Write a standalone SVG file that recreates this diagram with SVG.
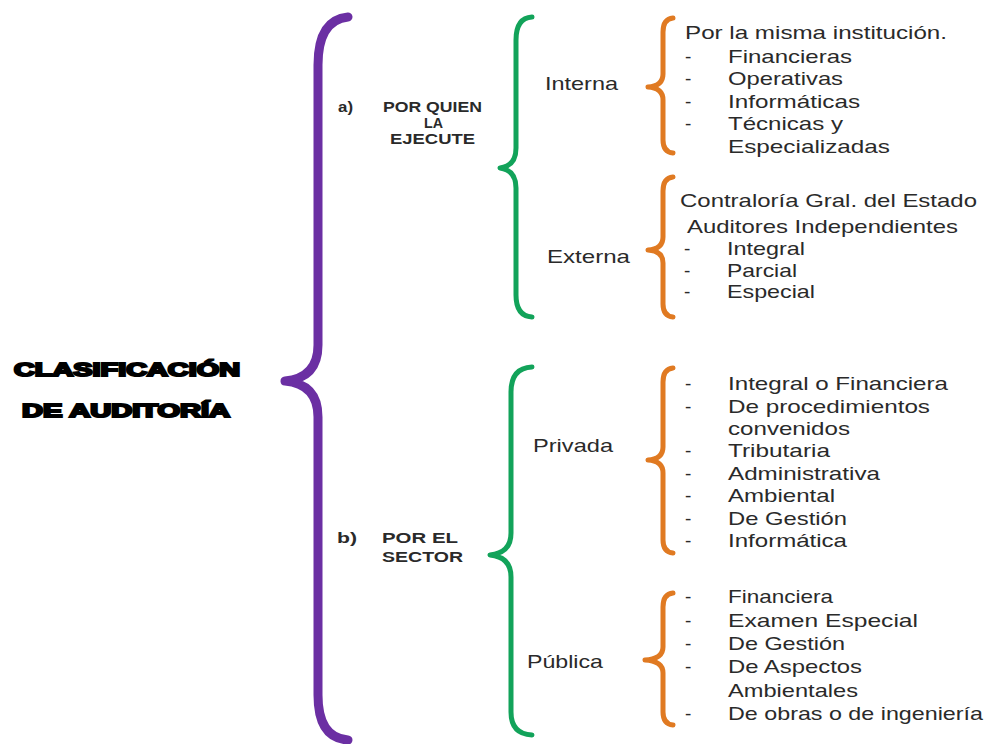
<svg xmlns="http://www.w3.org/2000/svg" width="999" height="744" viewBox="0 0 999 744">
<style>
.br{fill:none;stroke-linecap:round;stroke-linejoin:round}
.pu{stroke:#6b2fa3;stroke-width:9}
.gr{stroke:#12a35a;stroke-width:5}
.or{stroke:#e07a22;stroke-width:5}
.t{font-family:"Liberation Sans",Arial,sans-serif;font-size:19px;fill:#2a2a2a}
.b{font-family:"Liberation Sans",Arial,sans-serif;font-size:14px;font-weight:bold;fill:#2a2a2a}
.h{font-family:"Liberation Sans",Arial,sans-serif;font-size:18px;font-weight:bold;fill:#000;stroke:#000;stroke-width:2}
</style>
<rect width="999" height="744" fill="#fff"/>
<g id="connectors">
<path class="br pu" d="M348,17 Q318,20 318,65 L318,345 Q318,378 285,381 Q318,384 318,417 L318,695 Q318,738 348,740"/>
<path class="br gr" d="M532,17 Q516,18 516,40 L516,148 Q516,166 500,168 Q516,170 516,188 L516,295 Q516,316 532,317"/>
<path class="br gr" d="M532,367 Q511,368 511,392 L511,533 Q511,553 490,555 Q511,557 511,577 L511,712 Q511,734 532,735"/>
<path class="br or" d="M673,18 Q663,19 663,32 L663,74 Q663,86 648,87 Q663,88 663,100 L663,140 Q663,152 673,153"/>
<path class="br or" d="M673,177 Q663,178 663,191 L663,237 Q663,249 648,250 Q663,251 663,263 L663,304 Q663,316 673,317"/>
<path class="br or" d="M673,368 Q663,369 663,382 L663,447 Q663,459 648,460 Q663,461 663,473 L663,540 Q663,552 673,553"/>
<path class="br or" d="M673,593 Q663,594 663,607 L663,647 Q663,659 645,660 Q663,661 663,673 L663,712 Q663,724 673,725"/>
</g>
<g id="root">
<text class="h" x="14" y="376" textLength="226" lengthAdjust="spacingAndGlyphs">CLASIFICACIÓN</text>
<text class="h" x="22" y="417" textLength="208" lengthAdjust="spacingAndGlyphs">DE AUDITORÍA</text>
</g>
<g id="a-ejecute">
<text class="b" x="338" y="112" textLength="15" lengthAdjust="spacingAndGlyphs">a)</text>
<text class="b" x="383" y="112" textLength="99" lengthAdjust="spacingAndGlyphs">POR QUIEN</text>
<text class="b" x="424" y="128" textLength="19" lengthAdjust="spacingAndGlyphs">LA</text>
<text class="b" x="390" y="144" textLength="85" lengthAdjust="spacingAndGlyphs">EJECUTE</text>
</g>
<g id="b-sector">
<text class="b" x="337" y="543" textLength="20" lengthAdjust="spacingAndGlyphs">b)</text>
<text class="b" x="382" y="543" textLength="76" lengthAdjust="spacingAndGlyphs">POR  EL</text>
<text class="b" x="382" y="562" textLength="81" lengthAdjust="spacingAndGlyphs">SECTOR</text>
</g>
<g id="interna">
<text class="t" x="545" y="90" textLength="73" lengthAdjust="spacingAndGlyphs">Interna</text>
</g>
<g id="interna-list">
<text class="t" x="685" y="39" textLength="262" lengthAdjust="spacingAndGlyphs">Por la misma institución.</text>
<text class="t" x="685" y="63">-</text><text class="t" x="728" y="63" textLength="124" lengthAdjust="spacingAndGlyphs">Financieras</text>
<text class="t" x="685" y="85">-</text><text class="t" x="728" y="85" textLength="115" lengthAdjust="spacingAndGlyphs">Operativas</text>
<text class="t" x="685" y="108">-</text><text class="t" x="728" y="108" textLength="132" lengthAdjust="spacingAndGlyphs">Informáticas</text>
<text class="t" x="685" y="130">-</text><text class="t" x="728" y="130" textLength="115" lengthAdjust="spacingAndGlyphs">Técnicas y</text>
<text class="t" x="728" y="153" textLength="162" lengthAdjust="spacingAndGlyphs">Especializadas</text>
</g>
<g id="externa">
<text class="t" x="547" y="263" textLength="83" lengthAdjust="spacingAndGlyphs">Externa</text>
</g>
<g id="externa-list">
<text class="t" x="680" y="207" textLength="297" lengthAdjust="spacingAndGlyphs">Contraloría Gral. del Estado</text>
<text class="t" x="687" y="233" textLength="271" lengthAdjust="spacingAndGlyphs">Auditores Independientes</text>
<text class="t" x="684" y="255">-</text><text class="t" x="727" y="255" textLength="78" lengthAdjust="spacingAndGlyphs">Integral</text>
<text class="t" x="684" y="277">-</text><text class="t" x="727" y="277" textLength="70" lengthAdjust="spacingAndGlyphs">Parcial</text>
<text class="t" x="684" y="298">-</text><text class="t" x="727" y="298" textLength="88" lengthAdjust="spacingAndGlyphs">Especial</text>
</g>
<g id="privada">
<text class="t" x="533" y="452" textLength="80" lengthAdjust="spacingAndGlyphs">Privada</text>
</g>
<g id="privada-list">
<text class="t" x="685" y="390">-</text><text class="t" x="728" y="390" textLength="220" lengthAdjust="spacingAndGlyphs">Integral o Financiera</text>
<text class="t" x="685" y="413">-</text><text class="t" x="728" y="413" textLength="202" lengthAdjust="spacingAndGlyphs">De procedimientos</text>
<text class="t" x="728" y="435" textLength="122" lengthAdjust="spacingAndGlyphs">convenidos</text>
<text class="t" x="685" y="457">-</text><text class="t" x="728" y="457" textLength="102" lengthAdjust="spacingAndGlyphs">Tributaria</text>
<text class="t" x="685" y="480">-</text><text class="t" x="728" y="480" textLength="152" lengthAdjust="spacingAndGlyphs">Administrativa</text>
<text class="t" x="685" y="502">-</text><text class="t" x="728" y="502" textLength="107" lengthAdjust="spacingAndGlyphs">Ambiental</text>
<text class="t" x="685" y="525">-</text><text class="t" x="728" y="525" textLength="119" lengthAdjust="spacingAndGlyphs">De Gestión</text>
<text class="t" x="685" y="547">-</text><text class="t" x="728" y="547" textLength="119" lengthAdjust="spacingAndGlyphs">Informática</text>
</g>
<g id="publica">
<text class="t" x="527" y="668" textLength="76" lengthAdjust="spacingAndGlyphs">Pública</text>
</g>
<g id="publica-list">
<text class="t" x="685" y="603">-</text><text class="t" x="728" y="603" textLength="105" lengthAdjust="spacingAndGlyphs">Financiera</text>
<text class="t" x="685" y="627">-</text><text class="t" x="728" y="627" textLength="190" lengthAdjust="spacingAndGlyphs">Examen Especial</text>
<text class="t" x="685" y="650">-</text><text class="t" x="728" y="650" textLength="117" lengthAdjust="spacingAndGlyphs">De Gestión</text>
<text class="t" x="685" y="673">-</text><text class="t" x="728" y="673" textLength="134" lengthAdjust="spacingAndGlyphs">De Aspectos</text>
<text class="t" x="728" y="697" textLength="130" lengthAdjust="spacingAndGlyphs">Ambientales</text>
<text class="t" x="685" y="720">-</text><text class="t" x="728" y="720" textLength="255" lengthAdjust="spacingAndGlyphs">De obras o de ingeniería</text>
</g>
</svg>
